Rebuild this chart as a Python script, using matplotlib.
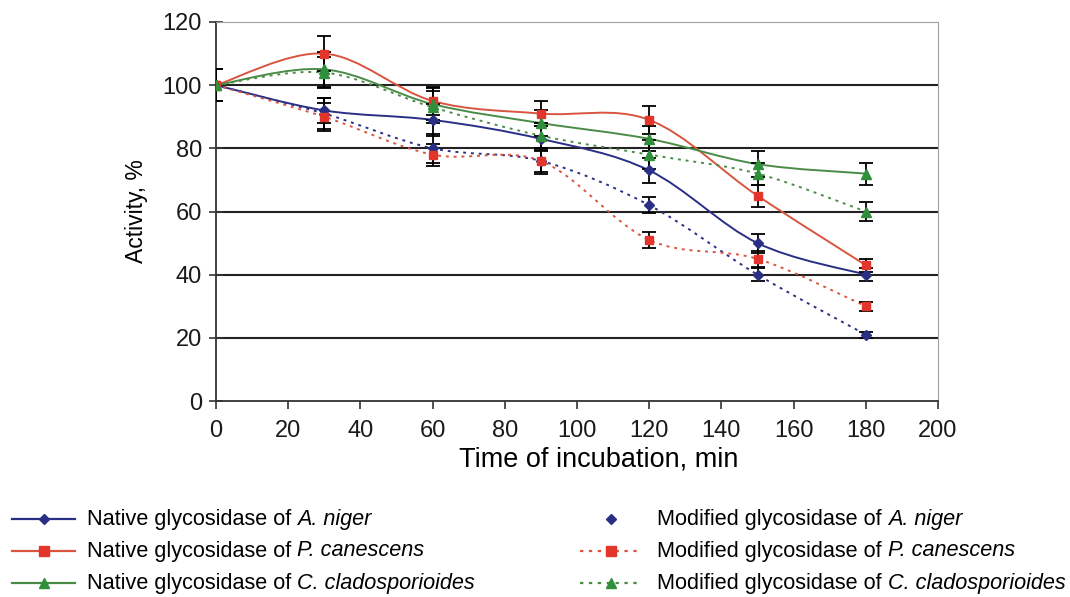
import numpy as np
import matplotlib
matplotlib.use("Agg")
import matplotlib.pyplot as plt
from matplotlib.path import Path
from matplotlib.patches import PathPatch
from matplotlib.lines import Line2D

# --------------------------------------------------
# Data
# --------------------------------------------------
time_min = [0, 30, 60, 90, 120, 150, 180]

native_niger = [100, 92, 89, 83, 73, 50, 40]
native_canescens = [100, 110, 95, 91, 89, 65, 43]
native_clado = [100, 105, 94, 88, 83, 75, 72]
mod_niger = [100, 91, 80, 76, 62, 40, 21]
mod_canescens = [100, 90, 78, 76, 51, 45, 30]
mod_clado = [100, 104, 93, 84, 78, 72, 60]

err_native_niger = [5, 4, 5, 4, 4, 3, 2]
err_native_canescens = [5, 5.5, 4.5, 4, 4.5, 3.5, 2]
err_native_clado = [5, 5.5, 5, 4, 4, 4, 3.5]
err_mod_niger = [5, 5, 4.5, 4, 2.5, 2, 1]
err_mod_canescens = [5, 4.5, 3.5, 3.5, 2.5, 2.5, 1.5]
err_mod_clado = [5, 5, 5, 4, 4.5, 3.5, 3]

label_prefix = ["Native glycosidase of", "Native glycosidase of", "Native glycosidase of",
                "Modified glycosidase of", "Modified glycosidase of", "Modified glycosidase of"]
label_species = ["A. niger", "P. canescens", "C. cladosporioides",
                 "A. niger", "P. canescens", "C. cladosporioides"]

BLUE = "#2a2f86"
RED = "#e2352b"
REDLINE = "#d9553f"
GREEN = "#2f8f3a"
GREENLINE = "#4a8c47"

plt.rcParams["font.family"] = ["Liberation Sans", "DejaVu Sans"]


def smooth_path(ax, x, y, color, ls, lw):
    # Excel-style smoothed line: cubic Bezier segments through the points
    x = np.asarray(x, float)
    y = np.asarray(y, float)
    n = len(x)
    verts = [(x[0], y[0])]
    codes = [Path.MOVETO]
    for i in range(n - 1):
        x0, y0 = (x[i - 1], y[i - 1]) if i > 0 else (x[i], y[i])
        x3, y3 = (x[i + 2], y[i + 2]) if i + 2 < n else (x[i + 1], y[i + 1])
        c1 = (x[i] + (x[i + 1] - x0) / 6, y[i] + (y[i + 1] - y0) / 6)
        c2 = (x[i + 1] - (x3 - x[i]) / 6, y[i + 1] - (y3 - y[i]) / 6)
        verts += [c1, c2, (x[i + 1], y[i + 1])]
        codes += [Path.CURVE4] * 3
    patch = PathPatch(Path(verts, codes), facecolor="none", edgecolor=color,
                      linestyle=ls, linewidth=lw, zorder=3)
    ax.add_patch(patch)


W, H = 1070, 597
fig = plt.figure(figsize=(W / 100, H / 100), dpi=100)
ax = fig.add_axes([216 / W, 1 - 401 / H, 722 / W, 379 / H])

DOT = (0, (1.5, 2.5))
series = [
    (native_niger, err_native_niger, BLUE, BLUE, "-", "D", 5),
    (native_canescens, err_native_canescens, REDLINE, RED, "-", "s", 6),
    (native_clado, err_native_clado, GREENLINE, GREEN, "-", "^", 7),
    (mod_niger, err_mod_niger, BLUE, BLUE, DOT, "D", 5),
    (mod_canescens, err_mod_canescens, REDLINE, RED, DOT, "s", 6),
    (mod_clado, err_mod_clado, GREENLINE, GREEN, DOT, "^", 7),
]

for vals, err, lc, mc, ls, mk, ms in series:
    smooth_path(ax, time_min, vals, lc, ls, 1.4)
    ax.errorbar(time_min, vals, yerr=err, fmt="none", ecolor="black",
                elinewidth=1.3, capsize=5, capthick=1.3, zorder=4)
    ax.plot(time_min, vals, linestyle="none", marker=mk, markersize=ms,
            color=mc, markeredgecolor=mc, zorder=5)

ax.set_xlim(0, 200)
ax.set_ylim(0, 120)
ax.set_xticks(range(0, 201, 20))
ax.set_yticks(range(0, 121, 20))
for yv in range(20, 101, 20):
    ax.axhline(yv, color="#222222", linewidth=1.5, zorder=1)

ax.spines["top"].set_color("#a0a0a0")
ax.spines["right"].set_color("#a0a0a0")
ax.spines["left"].set_color("#333333")
ax.spines["bottom"].set_color("#333333")
ax.spines["left"].set_linewidth(1.3)
ax.spines["bottom"].set_linewidth(1.3)
ax.tick_params(axis="both", labelsize=17, color="#333333", width=1.2,
               labelcolor="#1a1a1a")
ax.tick_params(axis="x", direction="out", length=6, pad=8)
ax.tick_params(axis="y", direction="inout", length=10, pad=5)
ax.set_xlabel("Time of incubation, min", fontsize=19.5)
ax.xaxis.set_label_coords((599 - 216) / 722, -(460 - 401) / 379)
ax.set_ylabel("Activity, %", fontsize=16.5)
ax.yaxis.set_label_coords(-(216 - 137) / 722, 0.5)
ax.xaxis.label.set_va("center")
ax.yaxis.label.set_va("center")

# --------------------------------------------------
# Legend: two columns below the plot, drawn by hand
# --------------------------------------------------
legend_rows = [519, 551, 583]
legend_cols = [(12, 75, 87), (580, 642, 657)]   # line start, line end, text start
legend_styles = [
    (BLUE, "-", "D", 5, BLUE, True),
    (REDLINE, "-", "s", 7, RED, True),
    (GREENLINE, "-", "^", 7, GREEN, True),
    (BLUE, "-", "D", 5, BLUE, False),
    (REDLINE, (0, (1.5, 2.5)), "s", 7, RED, True),
    (GREENLINE, (0, (1.5, 2.5)), "^", 7, GREEN, True),
]

renderer = fig.canvas.get_renderer()
for k in range(6):
    x0, x1, xt = legend_cols[k // 3]
    yp = 1 - legend_rows[k % 3] / H
    lc, ls, mk, ms, mc, show_line = legend_styles[k]
    if show_line:
        fig.add_artist(Line2D([x0 / W, x1 / W], [yp, yp], color=lc, ls=ls, lw=1.6,
                              transform=fig.transFigure))
    fig.add_artist(Line2D([(x0 + x1) / 2 / W], [yp], marker=mk, markersize=ms,
                          color=mc, ls="none", transform=fig.transFigure))
    t = fig.text(xt / W, yp, label_prefix[k] + " ", fontsize=15.6, va="center", ha="left")
    bb = t.get_window_extent(renderer)
    fig.text(bb.x1 / W, yp, label_species[k], fontsize=15.6, style="italic",
             va="center", ha="left")

fig.savefig("out.png", dpi=100)
